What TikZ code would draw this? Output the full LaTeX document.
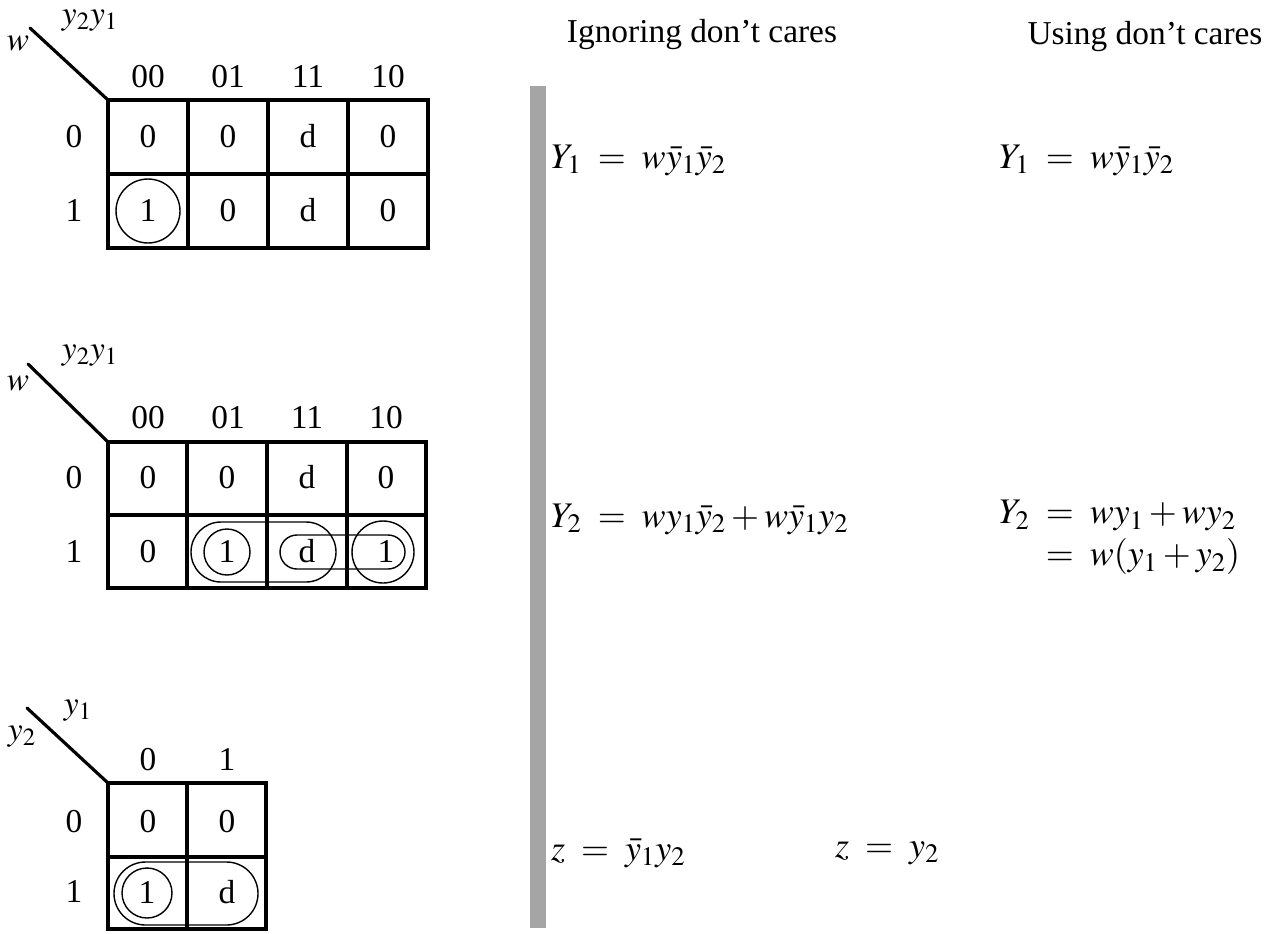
\documentclass[tikz,border=0pt]{standalone}
\usepackage{amsmath}
\usepackage{mathptmx}
\usepackage{fontspec}
\setmainfont{Liberation Serif}
\usepackage{tikz}
\usetikzlibrary{positioning}
\definecolor{scangray}{RGB}{165,165,165}

\tikzset{
  txt/.style={font=\fontsize{19}{23}\selectfont, inner sep=1pt},
  cellval/.style={txt, text height=12.4pt, text depth=0pt},
  eqn/.style={font=\fontsize{20.5}{25}\selectfont, inner sep=1pt, anchor=west},
  gridline/.style={line width=2.3pt},
  cornerline/.style={line width=1.8pt, line cap=round},
  kloop/.style={line width=0.8pt},
}

\begin{document}
\begin{tikzpicture}[x=0.02cm, y=-0.02cm]
        \useasboundingbox (0,0) rectangle (1266,933);
        % first map: Y1
        \coordinate (m1tip) at (30,28);
        \coordinate (m1corner) at (108,100);
        \draw[cornerline] (m1tip) -- (m1corner);
        \node[txt] (m1col) at (90,21) {$y_2y_1$};
        \node[txt] (m1row) at (18,44) {$w$};
        \node[cellval] (m1c00) at (148,77) {00};
        \node[cellval] (m1c01) at (228,77) {01};
        \node[cellval] (m1c11) at (308,77) {11};
        \node[cellval] (m1c10) at (388,77) {10};
        \node[cellval] (m1r0) at (74,137) {0};
        \node[cellval] (m1r1) at (74,211) {1};
        \draw[gridline] (108,100) rectangle (428,248);
        \draw[gridline] (108,174) -- (428,174);
        \draw[gridline] (188,100) -- (188,248);
        \draw[gridline] (268,100) -- (268,248);
        \draw[gridline] (348,100) -- (348,248);
        \node[cellval] (m1a) at (148,137) {0};
        \node[cellval] (m1b) at (228,137) {0};
        \node[cellval] (m1c) at (308,137) {d};
        \node[cellval] (m1d) at (388,137) {0};
        \node[cellval] (m1e) at (148,211) {1};
        \node[cellval] (m1f) at (228,211) {0};
        \node[cellval] (m1g) at (308,211) {d};
        \node[cellval] (m1h) at (388,211) {0};
        \draw[kloop] (m1e) circle [radius=0.64cm];

        % second map: Y2
        \coordinate (m2tip) at (28,364);
        \coordinate (m2corner) at (108,442);
        \draw[cornerline] (m2tip) -- (m2corner);
        \node[txt] (m2col) at (90,356) {$y_2y_1$};
        \node[txt] (m2row) at (18,384) {$w$};
        \node[cellval] (m2c00) at (148,418) {00};
        \node[cellval] (m2c01) at (228,418) {01};
        \node[cellval] (m2c11) at (307,418) {11};
        \node[cellval] (m2c10) at (386,418) {10};
        \node[cellval] (m2r0) at (74,478) {0};
        \node[cellval] (m2r1) at (74,552) {1};
        \draw[gridline] (108,442) rectangle (426,588);
        \draw[gridline] (108,515) -- (426,515);
        \draw[gridline] (187,442) -- (187,588);
        \draw[gridline] (267,442) -- (267,588);
        \draw[gridline] (347,442) -- (347,588);
        \node[cellval] (m2a) at (148,478) {0};
        \node[cellval] (m2b) at (227,478) {0};
        \node[cellval] (m2c) at (307,478) {d};
        \node[cellval] (m2d) at (386,478) {0};
        \node[cellval] (m2e) at (148,552) {0};
        \node[cellval] (m2f) at (227,552) {1};
        \node[cellval] (m2g) at (307,552) {d};
        \node[cellval] (m2h) at (386,552) {1};
        \draw[kloop] (m2f) circle [radius=0.46cm];
        \draw[kloop, rounded corners=0.6cm] (191,522) rectangle (336,582);
        \draw[kloop, rounded corners=0.34cm] (280,535) rectangle (405,569);
        \draw[kloop] (383,552) circle [radius=0.62cm];

        % third map: z
        \coordinate (m3tip) at (27,708);
        \coordinate (m3corner) at (108,783);
        \draw[cornerline] (m3tip) -- (m3corner);
        \node[txt] (m3col) at (78,711) {$y_1$};
        \node[txt] (m3row) at (22,737) {$y_2$};
        \node[cellval] (m3c0) at (148,760) {0};
        \node[cellval] (m3c1) at (227,760) {1};
        \node[cellval] (m3r0) at (74,822) {0};
        \node[cellval] (m3r1) at (74,892) {1};
        \draw[gridline] (108,783) rectangle (266,929);
        \draw[gridline] (108,857) -- (266,857);
        \draw[gridline] (187,783) -- (187,929);
        \node[cellval] (m3a) at (148,822) {0};
        \node[cellval] (m3b) at (227,822) {0};
        \node[cellval] (m3c) at (147,893) {1};
        \node[cellval] (m3d) at (227,893) {d};
        \draw[kloop] (m3c) circle [radius=0.5cm];
        \draw[kloop, rounded corners=0.63cm] (114,862) rectangle (258,925);

        % scanner stripe
        \fill[scangray] (530,86) rectangle (546,928);

        % equations
        \node[txt] (hign) at (702,35) {Ignoring don’t cares};
        \node[txt] (huse) at (1145,37) {Using don’t cares};
        \node[eqn] (ign1) at (549,160) {$Y_1 \;=\; w\bar{y}_1\bar{y}_2$};
        \node[eqn] (use1) at (997,160) {$Y_1 \;=\; w\bar{y}_1\bar{y}_2$};
        \node[eqn] (ign2) at (549,519) {$Y_2 \;=\; wy_1\bar{y}_2+w\bar{y}_1y_2$};
        \node[eqn] (use2) at (997,536) {$\begin{aligned} Y_2 \;&=\; wy_1+wy_2\\[-4pt] &=\; w(y_1+y_2)\end{aligned}$};
        \node[eqn] (ign3) at (549,853) {$z \;=\; \bar{y}_1y_2$};
        \node[eqn] (use3) at (833,853) {$z \;=\; y_2$};
    \end{tikzpicture}
\end{document}
